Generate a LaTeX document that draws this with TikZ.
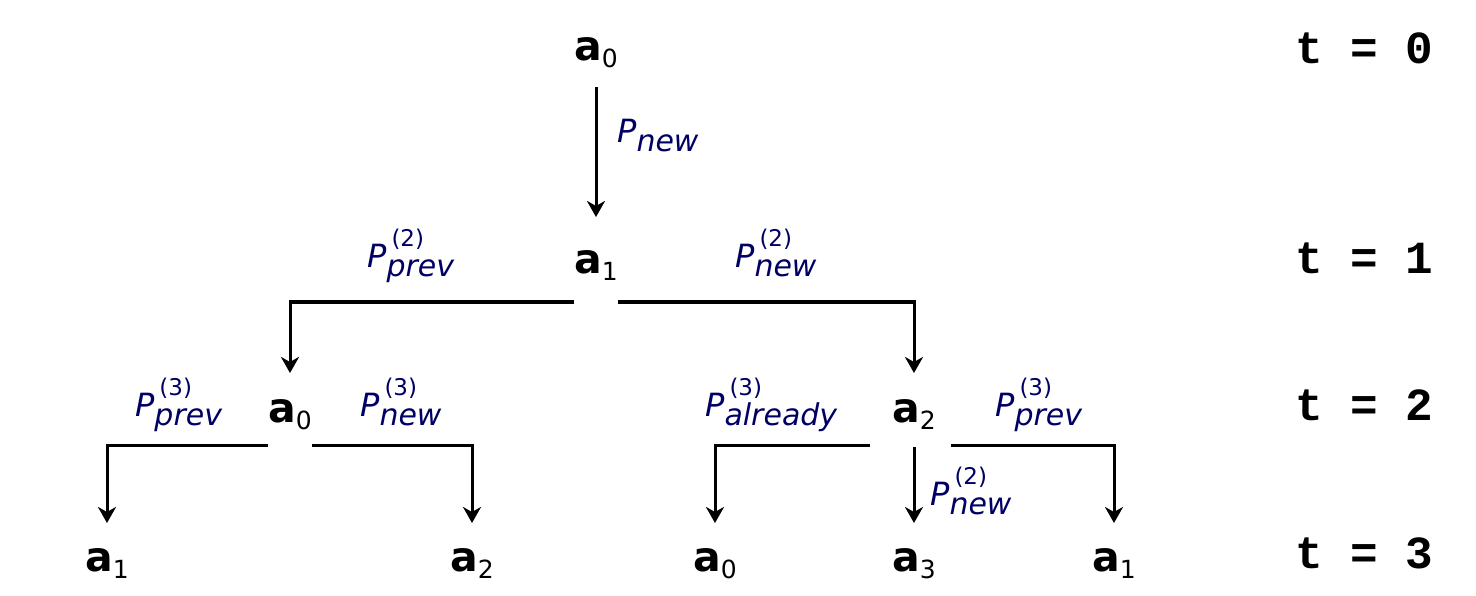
\documentclass[tikz,border=0pt]{standalone}
\usepackage{fontspec}
\usepackage{xcolor}
\setsansfont{DejaVu Sans}[ItalicFont={DejaVu Sans Oblique},BoldFont={DejaVu Sans Bold}]
\setmonofont{Liberation Mono}
\usetikzlibrary{arrows.meta}
\definecolor{probblue}{RGB}{0,0,100}
\newcommand{\ai}[1]{a\raisebox{-7pt}{\fontsize{25}{25}\selectfont\mdseries #1}}
\newcommand{\plab}[2][]{\textit{P}\if\relax\detokenize{#1}\relax\else\rlap{\kern5pt\raisebox{21pt}{\fontsize{23}{23}\selectfont\upshape(#1)}}\fi\raisebox{-9pt}{\fontsize{30}{30}\selectfont\textit{#2}}}

\begin{document}
\begin{tikzpicture}[x=1pt,y=-1pt,
  st/.style={font=\fontsize{41}{44}\selectfont\sffamily\bfseries,inner sep=0pt,anchor=base},
  prob/.style={font=\fontsize{32}{36}\selectfont\sffamily,text=probblue,inner sep=0pt,anchor=base west},
  tlab/.style={font=\fontsize{46}{48}\selectfont\ttfamily\bfseries,inner sep=0pt,anchor=base},
  arr/.style={line width=3pt,-{Stealth[length=16pt,width=18pt,inset=5pt]}}]
\useasboundingbox (0,0) rectangle (1476,596);
% states
\node[st] (r) at (596,61) {\ai{0}};
\node[st] (n1) at (596,273) {\ai{1}};
\node[st] (n2) at (290,422) {\ai{0}};
\node[st] (n3) at (914,422) {\ai{2}};
\node[st] (m1) at (107,571) {\ai{1}};
\node[st] (m2) at (472,571) {\ai{2}};
\node[st] (m3) at (715,571) {\ai{0}};
\node[st] (m4) at (914,571) {\ai{3}};
\node[st] (m5) at (1114,571) {\ai{1}};
% time steps
\node[tlab] (t0) at (1364,64) {t = 0};
\node[tlab] (t1) at (1364,273) {t = 1};
\node[tlab] (t2) at (1364,420) {t = 2};
\node[tlab] (t3) at (1364,568) {t = 3};
% transitions
\draw[arr] ([yshift=-26pt]r.base)--([yshift=56pt]n1.base);
\draw[arr] ([yshift=-29pt]n1.base west)-|([yshift=49pt]n2.base);
\draw[arr] ([yshift=-29pt]n1.base east)-|([yshift=49pt]n3.base);
\draw[arr] ([yshift=-23pt]n2.base west)-|([yshift=48pt]m1.base);
\draw[arr] ([yshift=-23pt]n2.base east)-|([yshift=48pt]m2.base);
\draw[arr] ([xshift=-22pt,yshift=-23pt]n3.base west)-|([yshift=48pt]m3.base);
\draw[arr] ([yshift=-25pt]n3.base)--([yshift=48pt]m4.base);
\draw[arr] ([xshift=15pt,yshift=-23pt]n3.base east)-|([yshift=48pt]m5.base);
% probabilities
\node[prob] (p0) at (617,143) {\plab{new}};
\node[prob] (p1) at (367,268) {\plab[2]{prev}};
\node[prob] (p2) at (735,268) {\plab[2]{new}};
\node[prob] (p3) at (135,416) {\plab[3]{prev}};
\node[prob] (p4) at (360,416) {\plab[3]{new}};
\node[prob] (p5) at (705,416) {\plab[3]{already}};
\node[prob] (p6) at (995,416) {\plab[3]{prev}};
\node[prob] (p7) at (930,505) {\plab[2]{new}};
\end{tikzpicture}
\end{document}
